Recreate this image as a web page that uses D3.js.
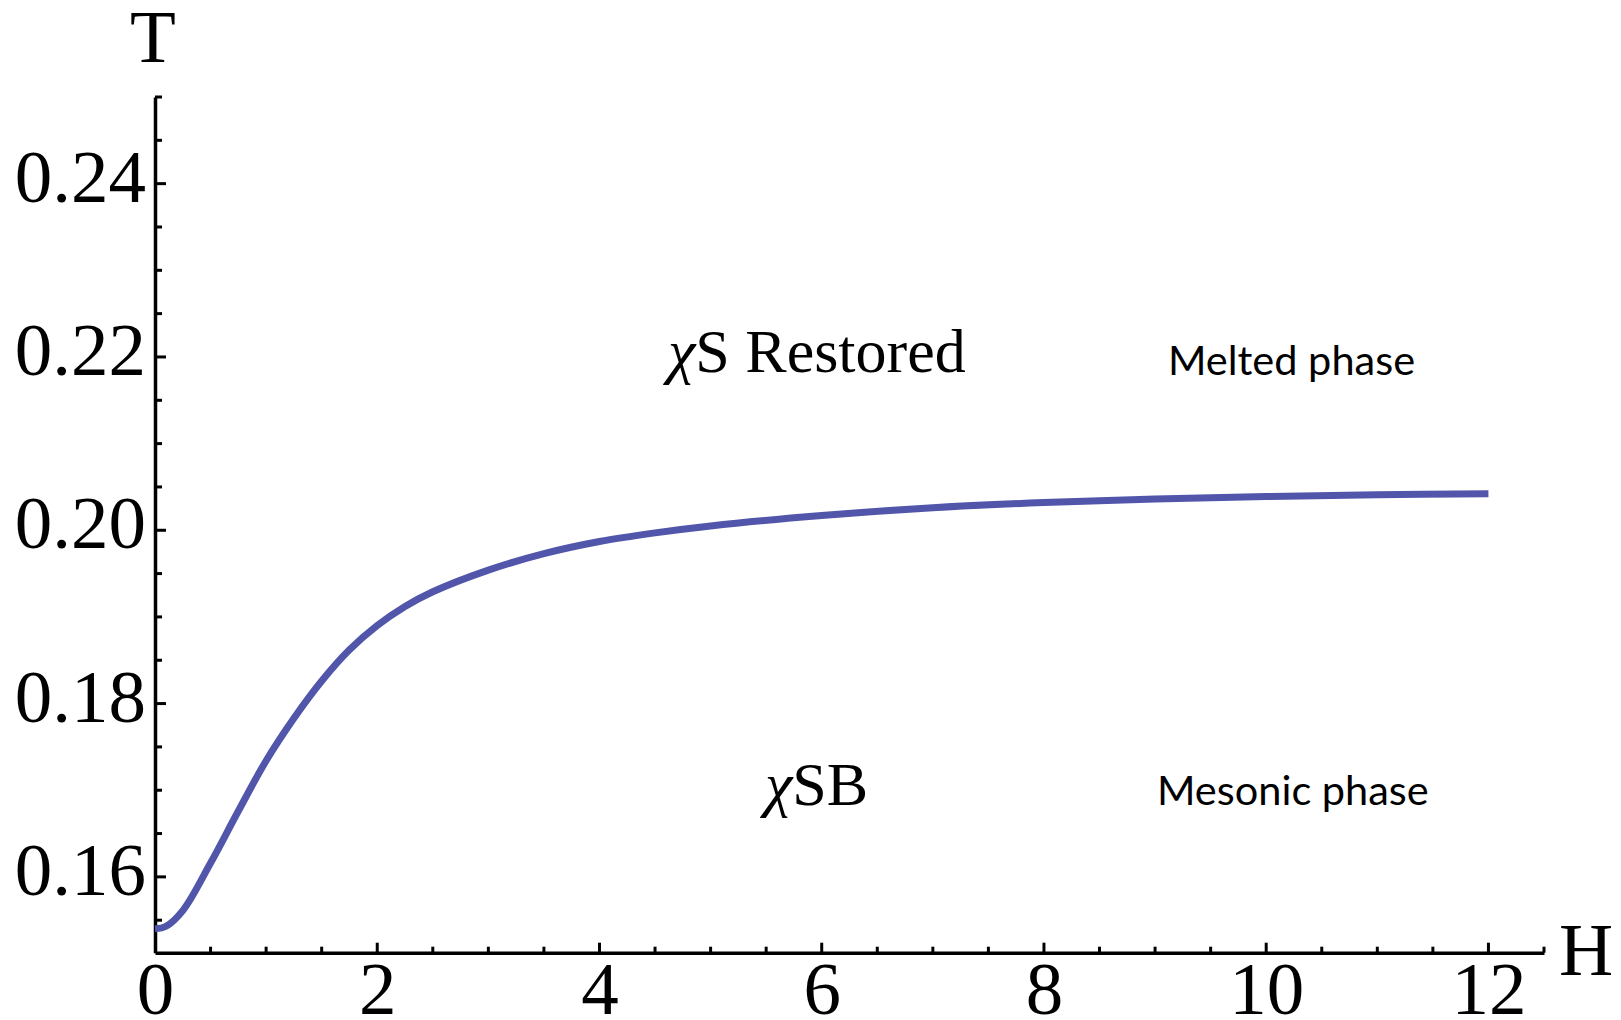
<!DOCTYPE html>
<html>
<head>
<meta charset="utf-8">
<script src="https://cdn.jsdelivr.net/npm/d3@7"></script>
<style>
  html, body { margin: 0; padding: 0; background: #fff; }
  svg { display: block; }
  .serif { font-family: "Liberation Serif", "DejaVu Serif", serif; fill: #000; }
  .sans { font-family: Lato, "Open Sans", sans-serif; fill: #000; }
</style>
</head>
<body>
<svg id="chart" width="1621" height="1020"></svg>
<script>
// phase boundary T(H)
const hValues = [0, 0.1, 0.25, 0.5, 0.75, 1, 1.25, 1.5, 1.75, 2, 2.25, 2.5, 3, 3.5, 4, 4.5, 5, 6, 7, 8, 9, 10, 11, 12]
const tValues = [0.1540, 0.1543, 0.1561, 0.1616, 0.1676, 0.1734, 0.1783, 0.1826, 0.1862, 0.1890, 0.1912, 0.1929, 0.1954, 0.1973, 0.1987, 0.1997, 0.2005, 0.2017, 0.2026, 0.2032, 0.2036, 0.2039, 0.2041, 0.2042]

const xTicks = [0, 2, 4, 6, 8, 10, 12]
const yTicks = [0.16, 0.18, 0.20, 0.22, 0.24]
const yTickLabels = ["0.16", "0.18", "0.20", "0.22", "0.24"]

const regionLabels = [
  { greek: "χ", text: "S Restored", h: 4.617, t: 0.2183, font: "serif" },
  { greek: "χ", text: "SB", h: 5.49, t: 0.1683, font: "serif" },
  { greek: "", text: "Melted phase", h: 9.116, t: 0.2179, font: "sans" },
  { greek: "", text: "Mesonic phase", h: 9.017, t: 0.1683, font: "sans" }
]

const svg = d3.select("#chart")

const x = d3.scaleLinear().domain([0, 12.5]).range([155, 1544])
const y = d3.scaleLinear().domain([0.15125, 0.25]).range([952.7, 97])

const xMinor = d3.range(1, 26).map(i => i * 0.5).filter(v => v % 2 !== 0)
const yMinor = d3.range(31, 51).map(i => i * 0.005).filter(v => Math.abs(v * 50 - Math.round(v * 50)) > 1e-6)

// axes
const xAxis = d3.axisBottom(x).tickValues(xTicks).tickSize(0).tickFormat(d3.format("d"))
const yAxis = d3.axisLeft(y).tickValues(yTicks).tickSize(0).tickFormat((d, i) => yTickLabels[i])

const gx = svg.append("g").attr("transform", `translate(0,${y.range()[0]})`).call(xAxis)
gx.select(".domain").attr("stroke", "#000").attr("stroke-width", 3.5)
gx.selectAll(".tick text")
  .attr("class", "serif")
  .attr("font-size", 75)
  .attr("y", 61)
  .attr("dy", 0)

const gy = svg.append("g").attr("transform", `translate(${x.range()[0]},0)`).call(yAxis)
gy.select(".domain").attr("stroke", "#000").attr("stroke-width", 3.5)
gy.selectAll(".tick text")
  .attr("class", "serif")
  .attr("font-size", 75)
  .attr("x", -9)
  .attr("dy", 17.5)

// inward tick marks
const ticks = svg.append("g").attr("stroke", "#000").attr("stroke-width", 3)
ticks.selectAll("line.xmaj").data(xTicks.slice(1)).join("line")
  .attr("class", "xmaj")
  .attr("x1", d => x(d)).attr("x2", d => x(d))
  .attr("y1", y.range()[0]).attr("y2", y.range()[0] - 10)
ticks.selectAll("line.xmin").data(xMinor).join("line")
  .attr("class", "xmin")
  .attr("x1", d => x(d)).attr("x2", d => x(d))
  .attr("y1", y.range()[0]).attr("y2", y.range()[0] - 6)
ticks.selectAll("line.ymaj").data(yTicks).join("line")
  .attr("class", "ymaj")
  .attr("x1", x.range()[0]).attr("x2", x.range()[0] + 11)
  .attr("y1", d => y(d)).attr("y2", d => y(d))
ticks.selectAll("line.ymin").data(yMinor).join("line")
  .attr("class", "ymin")
  .attr("x1", x.range()[0]).attr("x2", x.range()[0] + 7)
  .attr("y1", d => y(d)).attr("y2", d => y(d))

// axis names
svg.append("text").attr("class", "serif").attr("font-size", 75)
  .attr("x", 153).attr("y", 62).attr("text-anchor", "middle").text("T")
svg.append("text").attr("class", "serif").attr("font-size", 75)
  .attr("x", 1559).attr("y", 975).text("H")

// curve
const points = hValues.map((h, i) => [h, tValues[i]])
const line = d3.line()
  .x(d => x(d[0]))
  .y(d => y(d[1]))
  .curve(d3.curveCatmullRom.alpha(0.5))

svg.append("path")
  .datum(points)
  .attr("d", line)
  .attr("fill", "none")
  .attr("stroke", "#5156aa")
  .attr("stroke-width", 7)
  .attr("stroke-linecap", "butt")

// region labels
regionLabels.forEach(lab => {
  const t = svg.append("text")
    .attr("class", lab.font)
    .attr("font-size", lab.font === "serif" ? 62 : 41.5)
    .attr("x", x(lab.h))
    .attr("y", y(lab.t))
  if (lab.greek) t.append("tspan").attr("font-style", "italic").text(lab.greek)
  t.append("tspan").text(lab.text)
})
</script>
</body>
</html>
